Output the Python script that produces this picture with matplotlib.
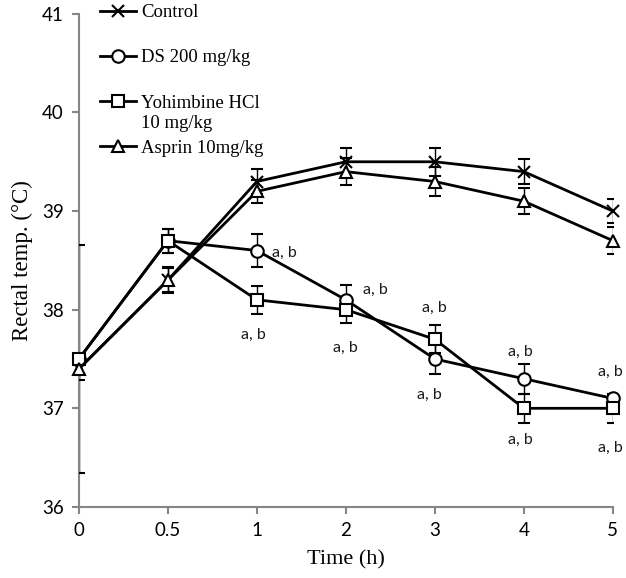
import numpy as np
import matplotlib.pyplot as plt

# Data
time_labels = ['0', '0.5', '1', '2', '3', '4', '5']

control = [37.4, 38.3, 39.3, 39.5, 39.5, 39.4, 39.0]
control_err = [0.11, 0.13, 0.13, 0.14, 0.14, 0.13, 0.12]
ds = [37.5, 38.7, 38.6, 38.1, 37.5, 37.3, 37.1]
ds_err = [1.16, 0.12, 0.17, 0.15, 0.15, 0.15, 0.05]
yoh = [37.5, 38.7, 38.1, 38.0, 37.7, 37.0, 37.0]
yoh_err = [0.05, 0.12, 0.14, 0.13, 0.14, 0.15, 0.15]
asp = [37.4, 38.3, 39.2, 39.4, 39.3, 39.1, 38.7]
asp_err = [0.05, 0.12, 0.12, 0.14, 0.15, 0.13, 0.14]

# "a, b" significance labels (category position, temperature)
sig_x = [2.31, 1.96, 3.33, 2.99, 4.0, 3.94, 4.96, 4.96, 5.97, 5.97]
sig_y = [38.58, 37.74, 38.2, 37.61, 38.02, 37.14, 37.57, 36.68, 37.37, 36.6]

x = np.arange(len(time_labels))
gray = '#868686'
serif = 'Liberation Serif'
sans = 'Lato'

fig = plt.figure(figsize=(6.26, 5.78), dpi=100)
ax = fig.add_axes([0.126, 0.123, 0.853, 0.853])

series = [
    (control, control_err, 'x', 'Control'),
    (ds, ds_err, 'o', 'DS 200 mg/kg'),
    (yoh, yoh_err, 's', 'Yohimbine HCl'),
    (asp, asp_err, '^', 'Asprin 10mg/kg'),
]
handles = []
labels = []
for vals, err, mk, lab in series:
    line, caps, bars = ax.errorbar(x, vals, yerr=err, color='black', lw=2,
                                   marker=mk, ms=9 if mk != 's' else 8,
                                   mfc='white', mec='black', mew=1.5,
                                   ecolor='black', elinewidth=1, capsize=4,
                                   capthick=1, zorder=3)
    line.set_clip_on(False)
    for b in bars:
        b.set_zorder(2)  # keep the bar at x=0 under the gray spine
    handles.append(line)
    labels.append(lab)

for sx, sy in zip(sig_x, sig_y):
    ax.text(sx, sy, 'a, b', ha='center', va='center', fontsize=11.5,
            family=sans, color='#1a1a1a')

ax.set_xlim(0, 6)
ax.set_ylim(36, 41)
ax.set_xticks(x)
ax.set_xticklabels(time_labels)
ax.set_yticks([36, 37, 38, 39, 40, 41])
for lab in ax.get_xticklabels() + ax.get_yticklabels():
    lab.set_family(sans)
    lab.set_fontsize(13.5)

for s in ['top', 'right']:
    ax.spines[s].set_visible(False)
for s in ['left', 'bottom']:
    ax.spines[s].set_color(gray)
    ax.spines[s].set_linewidth(1.5)
    ax.spines[s].set_zorder(2.5)
ax.tick_params(axis='both', direction='out', length=5, width=1.5, color=gray,
               pad=6)

ax.set_xlabel('Time (h)', family=serif, fontsize=16, labelpad=8)
ax.set_ylabel('Rectal temp. (°C)', family=serif, fontsize=16.5, labelpad=6)

leg = fig.legend(handles, labels, loc='upper left',
                 bbox_to_anchor=(0.16, 0.993), frameon=False,
                 prop={'family': serif, 'size': 13.5}, labelspacing=1.5,
                 handlelength=1.9, handletextpad=0.3, borderpad=0,
                 borderaxespad=0)

# second line of the Yohimbine label sits under the first one
fig.canvas.draw()
t = leg.get_texts()[2]
bb = t.get_window_extent().transformed(fig.transFigure.inverted())
fig.text(bb.x0, bb.y0 - 0.006, '10 mg/kg', family=serif, fontsize=13.5,
         ha='left', va='top')

fig.savefig('out.png', dpi=100)
